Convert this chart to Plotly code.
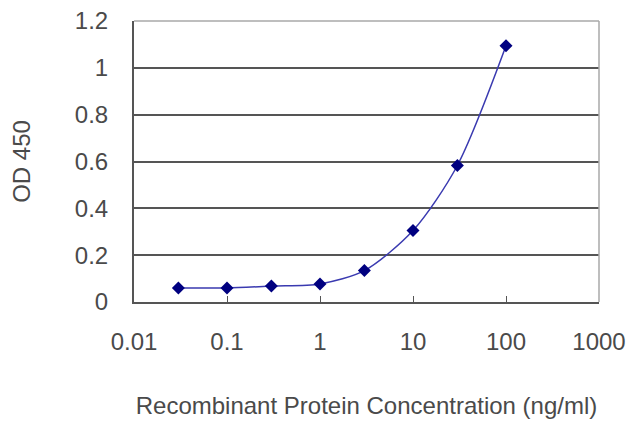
import plotly.graph_objects as go

# concentration (ng/ml) and OD 450 readings
conc = [0.03, 0.1, 0.3, 1, 3, 10, 30, 100]
od450 = [0.060, 0.060, 0.068, 0.077, 0.134, 0.305, 0.583, 1.094]

x_ticks = [0.01, 0.1, 1, 10, 100, 1000]
x_labels = ["0.01", "0.1", "1", "10", "100", "1000"]
y_ticks = [0, 0.2, 0.4, 0.6, 0.8, 1, 1.2]
y_labels = ["0", "0.2", "0.4", "0.6", "0.8", "1", "1.2"]

FONT = "Liberation Sans, Arial, sans-serif"
TEXT = "#4a4a4a"

fig = go.Figure()
fig.add_trace(go.Scatter(
    x=conc, y=od450,
    mode="lines+markers",
    line=dict(color="#3a3ab0", width=1.5, shape="spline", smoothing=0.8),
    marker=dict(symbol="diamond", size=10, color="#000080"),
    showlegend=False,
))

# page body has an 8px margin, so the margins are shifted to compensate
fig.update_layout(
    width=640, height=427,
    margin=dict(l=126, r=49, t=13, b=133),
    paper_bgcolor="white", plot_bgcolor="white",
    font=dict(family=FONT, color=TEXT, size=24),
    xaxis=dict(
        type="log", range=[-2, 3], automargin=False,
        tickvals=x_ticks, ticktext=x_labels,
        ticks="inside", ticklen=6, tickcolor="#555",
        showgrid=False, zeroline=False,
        showline=True, linecolor="#555", linewidth=2,
        ticklabelstandoff=17, ticklabeloverflow="allow",
        title=dict(text="Recombinant Protein Concentration (ng/ml)",
                   font=dict(size=24), standoff=43),
    ),
    yaxis=dict(
        range=[0, 1.2], automargin=False,
        tickvals=y_ticks, ticktext=y_labels,
        ticks="", showgrid=True, gridcolor="#555555", gridwidth=1.8,
        zeroline=False,
        showline=True, linecolor="#555", linewidth=2,
        ticklabelstandoff=19, ticklabeloverflow="allow",
        title=dict(text="OD 450", font=dict(size=24), standoff=40),
    ),
    shapes=[
        dict(type="line", xref="paper", yref="paper", x0=0, x1=1, y0=1, y1=1,
             line=dict(color="#a8a8a8", width=1.5), layer="above"),
        dict(type="line", xref="paper", yref="paper", x0=1, x1=1, y0=0, y1=1,
             line=dict(color="#a8a8a8", width=1.5), layer="above"),
    ],
)

fig.write_html("out.html")
